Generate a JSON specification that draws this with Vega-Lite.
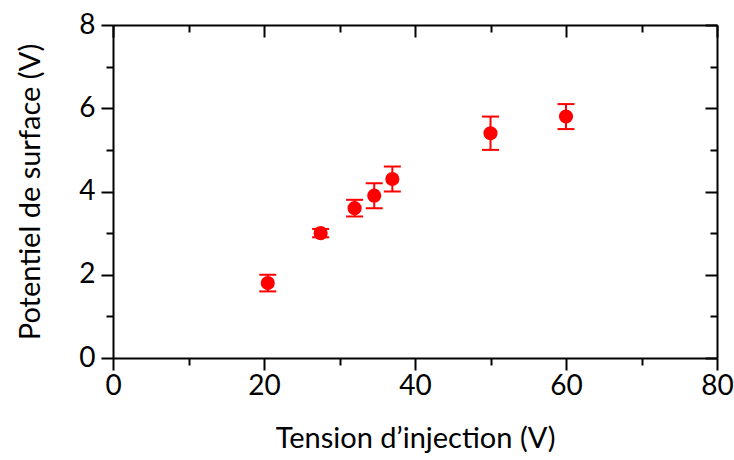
{
  "$schema": "https://vega.github.io/schema/vega-lite/v6.json",
  "width": 604,
  "height": 333,
  "autosize": "none",
  "padding": {"left": 113, "top": 25, "right": 17, "bottom": 102},
  "background": "white",
  "config": {
    "view": {"stroke": null},
    "font": "Lato",
    "axis": {
      "domainColor": "black",
      "domainWidth": 2,
      "tickColor": "black",
      "tickWidth": 2,
      "grid": false,
      "labelFont": "Lato",
      "labelFontSize": 28,
      "labelColor": "black",
      "titleFont": "Lato",
      "titleFontSize": 29,
      "titleFontWeight": "normal",
      "titleColor": "black"
    }
  },
  "data": {
    "values": [
      {"x": 20.5, "y": 1.8, "ylo": 1.6, "yhi": 2.0},
      {"x": 27.5, "y": 3.0, "ylo": 2.9, "yhi": 3.1},
      {"x": 32.0, "y": 3.6, "ylo": 3.4, "yhi": 3.8},
      {"x": 34.6, "y": 3.9, "ylo": 3.6, "yhi": 4.2},
      {"x": 37.0, "y": 4.3, "ylo": 4.0, "yhi": 4.6},
      {"x": 50.0, "y": 5.4, "ylo": 5.0, "yhi": 5.8},
      {"x": 60.0, "y": 5.8, "ylo": 5.5, "yhi": 6.1}
    ]
  },
  "resolve": {"axis": {"x": "independent", "y": "independent"}},
  "layer": [
    {
      "mark": {"type": "rule", "color": "#ff0000", "strokeWidth": 2, "opacity": 1},
      "encoding": {
        "x": {
          "field": "x", "type": "quantitative",
          "scale": {"domain": [0, 80], "nice": false},
          "axis": {
            "orient": "bottom",
            "title": "Tension d\u2019injection (V)",
            "values": [0, 10, 20, 30, 40, 50, 60, 70, 80],
            "labelExpr": "datum.value % 20 === 0 ? datum.label : ''",
            "tickSize": {"condition": {"test": "datum.value % 20 === 0", "value": 12}, "value": 7},
            "labelPadding": 2,
            "titlePadding": 24,
            "labelFlush": false
          }
        },
        "y": {
          "field": "ylo", "type": "quantitative",
          "scale": {"domain": [0, 8], "nice": false},
          "axis": {
            "orient": "left",
            "title": "Potentiel de surface (V)",
            "values": [0, 1, 2, 3, 4, 5, 6, 7, 8],
            "labelExpr": "datum.value % 2 === 0 ? datum.label : ''",
            "tickSize": {"condition": {"test": "datum.value % 2 === 0", "value": 12}, "value": 7},
            "labelPadding": 6,
            "titlePadding": 33,
            "labelFlush": false
          }
        },
        "y2": {"field": "yhi"}
      }
    },
    {
      "mark": {"type": "tick", "color": "#ff0000", "orient": "horizontal", "size": 17, "thickness": 2, "opacity": 1},
      "encoding": {
        "x": {"field": "x", "type": "quantitative", "axis": null},
        "y": {"field": "ylo", "type": "quantitative", "axis": null}
      }
    },
    {
      "mark": {"type": "tick", "color": "#ff0000", "orient": "horizontal", "size": 17, "thickness": 2, "opacity": 1},
      "encoding": {
        "x": {"field": "x", "type": "quantitative", "axis": null},
        "y": {"field": "yhi", "type": "quantitative", "axis": null}
      }
    },
    {
      "mark": {"type": "point", "shape": "circle", "filled": true, "color": "#ff0000", "size": 200, "opacity": 1},
      "encoding": {
        "x": {
          "field": "x", "type": "quantitative",
          "axis": {
            "orient": "top",
            "title": null,
            "labels": false,
            "values": [0, 10, 20, 30, 40, 50, 60, 70, 80],
            "tickSize": {"condition": {"test": "datum.value % 20 === 0", "value": -12}, "value": -7}
          }
        },
        "y": {
          "field": "y", "type": "quantitative",
          "axis": {
            "orient": "right",
            "title": null,
            "labels": false,
            "values": [0, 1, 2, 3, 4, 5, 6, 7, 8],
            "tickSize": {"condition": {"test": "datum.value % 2 === 0", "value": -12}, "value": -7}
          }
        }
      }
    }
  ]
}
